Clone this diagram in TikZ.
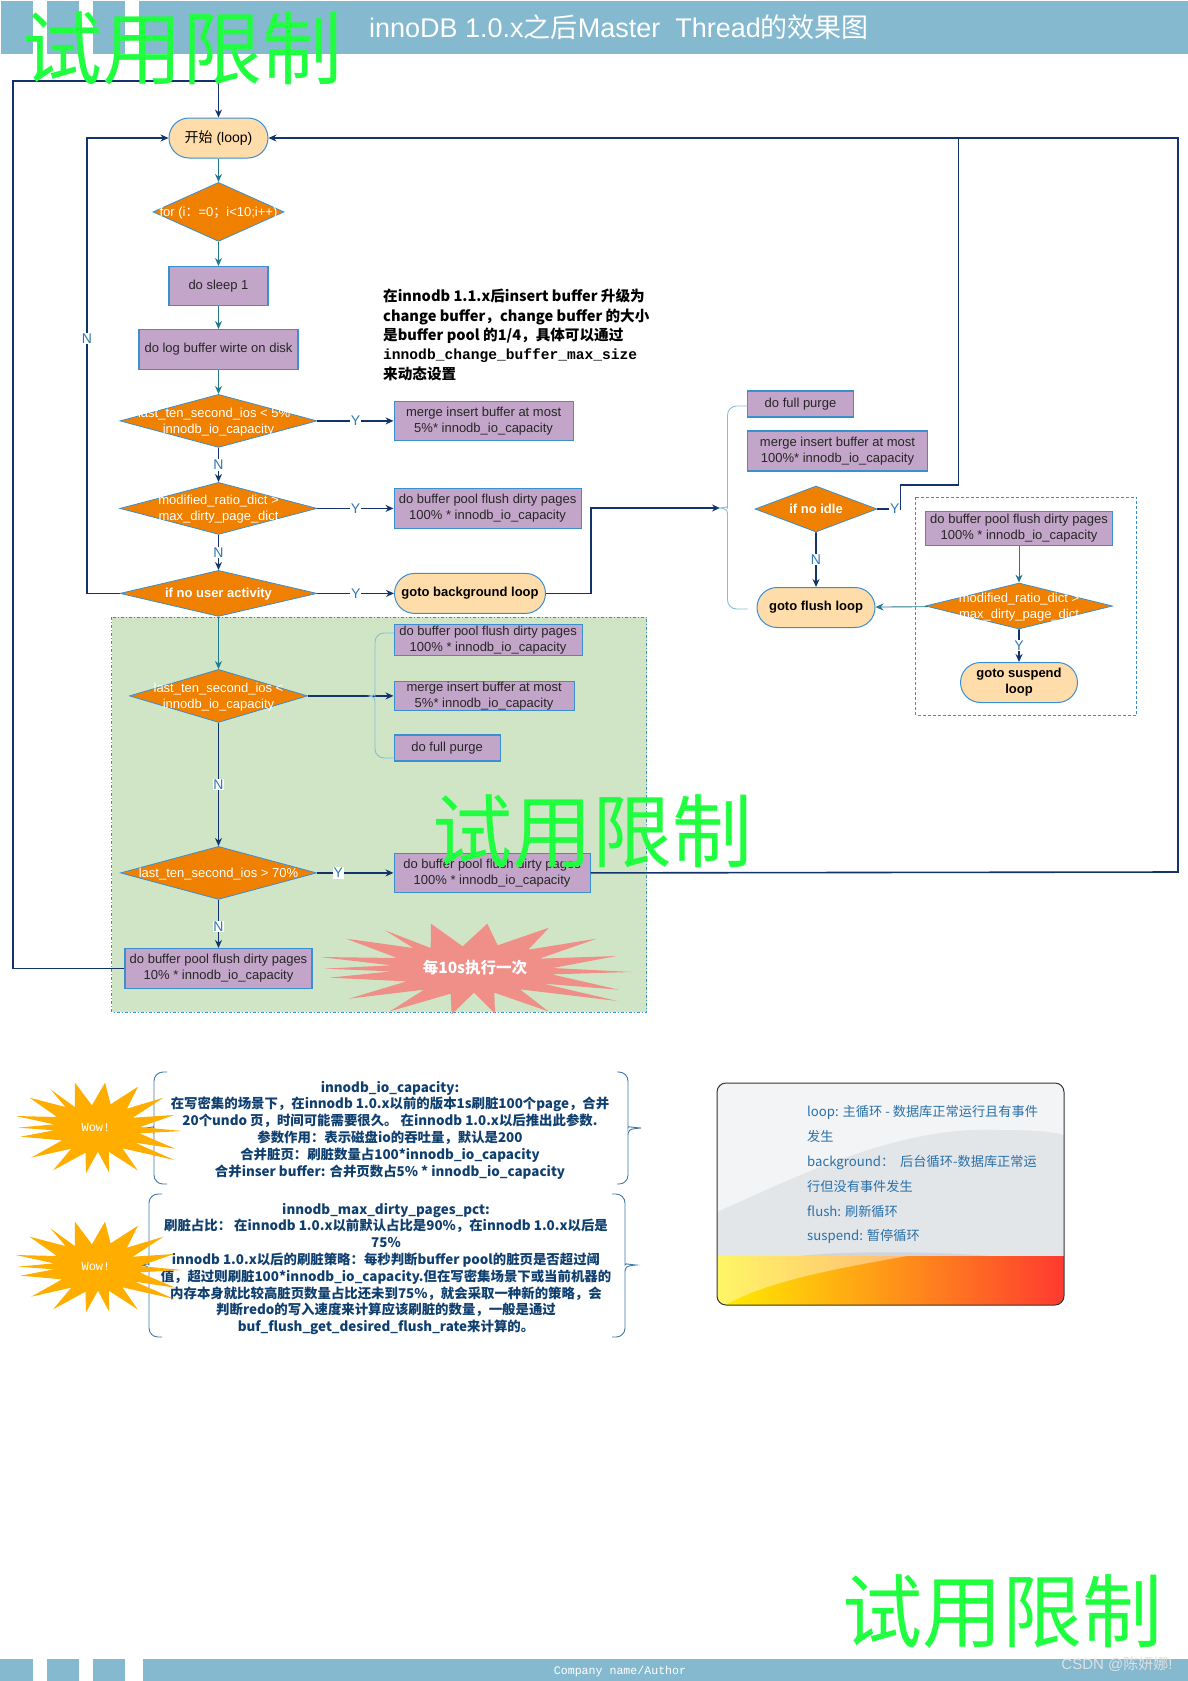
\documentclass[tikz,border=0pt]{standalone}
\usepackage{fontspec}
\usepackage{xcolor}
\setmainfont{Liberation Sans}
\setmonofont{Liberation Mono}
\newfontfamily\cjk{Noto Sans CJK SC}
\usepackage{tikz}
\usetikzlibrary{shapes.geometric,shapes.misc,arrows.meta}
\definecolor{barblue}{HTML}{84B9D0}
\definecolor{navyline}{HTML}{12336B}
\definecolor{tealline}{HTML}{1F7A8C}
\definecolor{edgeblue}{HTML}{3A8FD0}
\definecolor{boxfill}{HTML}{C3A5C9}
\definecolor{diafill}{HTML}{F08000}
\definecolor{pillfill}{HTML}{FFDDAA}
\definecolor{greenarea}{HTML}{CFE5C6}
\definecolor{markgreen}{HTML}{1FFF3F}
\definecolor{lblblue}{HTML}{2F78B0}
\definecolor{bracelight}{HTML}{86BFD6}
\definecolor{bracedark}{HTML}{3F78A8}
\definecolor{notedark}{HTML}{0F3F6F}
\definecolor{cardtext}{HTML}{2A70A8}
\definecolor{burstpink}{HTML}{EF8F88}
\definecolor{burstorange}{HTML}{FFAE00}
\definecolor{cardlight}{HTML}{F3F4F6}
\definecolor{cardmid}{HTML}{E3E6E9}
\definecolor{cardhump}{HTML}{CFD4DE}
\definecolor{bandyellow}{HTML}{FFF000}
\definecolor{bandorange}{HTML}{FF9F1C}
\definecolor{bandred}{HTML}{FF3A30}
\newcommand\zh[1]{{\cjk #1}}
\newcommand\dialbl[1]{\makebox[0pt]{\smash{\raisebox{-4pt}{\begin{tabular}{@{}c@{}}#1\end{tabular}}}}}
\newcommand\curly[7]{\draw[#1,rounded corners=9pt] (#2,#5) -- (#3,#5) -- (#3,#6-9) [sharp corners] .. controls (#3,#6-2) and (#3,#6-1) .. (#4,#6) .. controls (#3,#6+1) and (#3,#6+2) .. (#3,#6+9) [rounded corners=9pt] -- (#3,#7) -- (#2,#7);}
\begin{document}
\begin{tikzpicture}[x=1pt,y=-1pt,>={Stealth[length=8pt,width=7pt]},
  procbox/.style={draw=edgeblue,fill=boxfill,line width=1.2pt,inner sep=0pt,align=center,font=\fontsize{13}{16}\selectfont,text=black!85},
  diabox/.style={diamond,draw=edgeblue,fill=diafill,line width=.8pt,inner sep=0pt,text=white,font=\fontsize{13}{16}\selectfont},
  pillbox/.style={rounded rectangle,draw=edgeblue,fill=pillfill,line width=1pt,inner sep=0pt,align=center,font=\fontsize{13}{16}\bfseries\selectfont},
  navyarrow/.style={draw=navyline,line width=1.6pt},
  tealarrow/.style={draw=tealline,line width=.9pt},
  lbl/.style={fill=white,inner sep=.8pt,text=lblblue,font=\fontsize{14}{14}\selectfont},
  markword/.style={text=markgreen,font=\cjk\fontsize{80}{80}\selectfont},
  notetext/.style={align=center,text=notedark,font=\cjk\bfseries\fontsize{13.4}{16.8}\selectfont},
  burst/.pic={\fill[pic actions] (-135,-136) -- (-40,-68) -- (34,-136) -- (65,-71) -- (219,-124) -- (157,-58) -- (362,-91) -- (190,-31) -- (422,-39) -- (230,-3) -- (468,9) -- (227,16) -- (428,62) -- (202,44) -- (424,96) -- (132,61) -- (217,127) -- (55,71) -- (57,134) -- (-6,71) -- (-73,136) -- (-76,74) -- (-258,127) -- (-156,62) -- (-381,89) -- (-208,37) -- (-440,26) -- (-253,7) -- (-456,-1) -- (-253,-11) -- (-468,-36) -- (-236,-33) -- (-390,-91) -- (-188,-63) -- (-273,-116) -- (-136,-63) -- cycle;}]
\useasboundingbox (0,0) rectangle (1188,1681);

\fill[barblue] (1,1) rectangle (33,54);
\fill[barblue] (47,1) rectangle (79,54);
\fill[barblue] (93,1) rectangle (125,54);
\fill[barblue] (139,1) rectangle (1188,54);
\fill[barblue] (0,1659) rectangle (33,1681);
\fill[barblue] (47,1659) rectangle (79,1681);
\fill[barblue] (93,1659) rectangle (125,1681);
\fill[barblue] (143,1659) rectangle (1188,1681);
\node[text=white,font=\fontsize{27}{30}\selectfont] (title) at (619,27) {innoDB 1.0.x\zh{之后}Master\ \ Thread\zh{的效果图}};
\node[text=white,font=\ttfamily\fontsize{11.6}{12}\selectfont] (footer) at (620,1671) {Company name/Author};
\node[text=white!88!black,font=\fontsize{15}{15}\selectfont] (csdn) at (1117,1664) {CSDN @\zh{陈妍娜}!};

\draw[fill=greenarea,draw=edgeblue,line width=1pt,dash dot] (111.5,617) rectangle (646.5,1012);
\draw[draw=edgeblue,line width=.8pt,densely dashed] (915.5,497) rectangle (1136.5,715);

\node[pillbox,font=\fontsize{14}{16}\selectfont,minimum width=99pt,minimum height=40pt] (start) at (218.5,138) {\zh{开始} (loop)};
\node[diabox,below=44pt,minimum width=131pt,minimum height=59pt] (fordia) at (start) {\dialbl{for (i\zh{：}=0\zh{；}i<10;i++)}};
\node[procbox,below=128pt,minimum width=99pt,minimum height=39pt] (sleep) at (start) {do sleep 1};
\node[procbox,below=191pt,minimum width=159pt,minimum height=40pt] (logbuf) at (start) {do log buffer wirte on disk};
\node[diabox,below=256pt,minimum width=197pt,minimum height=53pt] (fivedia) at (start) {\dialbl{last\_ten\_second\_ios < 5\% *\\innodb\_io\_capacity}};
\node[diabox,below=344pt,minimum width=197pt,minimum height=52pt] (ratiodia) at (start) {\dialbl{modified\_ratio\_dict >\\max\_dirty\_page\_dict}};
\node[diabox,below=432pt,minimum width=197pt,minimum height=46pt] (userdia) at (start) {\dialbl{\bfseries if no user activity}};
\node[diabox,below=531pt,minimum width=178pt,minimum height=53pt] (lessdia) at (start) {\dialbl{last\_ten\_second\_ios <\\innodb\_io\_capacity}};
\node[diabox,below=708pt,minimum width=196pt,minimum height=53pt] (moredia) at (start) {\dialbl{last\_ten\_second\_ios > 70\%}};
\node[procbox,below=810pt,minimum width=187pt,minimum height=40pt] (flushten) at (start) {do buffer pool flush dirty pages\\10\% * innodb\_io\_capacity};

\node[procbox,right=175pt,minimum width=179pt,minimum height=39pt] (mergefive) at (fivedia) {merge insert buffer at most\\5\%* innodb\_io\_capacity};
\node[procbox,right=175pt,minimum width=187pt,minimum height=40pt] (flushall) at (ratiodia) {do buffer pool flush dirty pages\\100\% * innodb\_io\_capacity};
\node[pillbox,right=175.5pt,minimum width=151pt,minimum height=40pt] (bgloop) at (userdia) {goto background loop};
\node[procbox,right=175pt,minimum width=188pt,minimum height=31pt] (flushless) at (218.5,640) {do buffer pool flush dirty pages\\100\% * innodb\_io\_capacity};
\node[procbox,right=175pt,minimum width=180pt,minimum height=29pt] (mergeless) at (lessdia) {merge insert buffer at most\\5\%* innodb\_io\_capacity};
\node[procbox,right=175pt,minimum width=106pt,minimum height=26pt] (purgeless) at (218.5,748) {do full purge};
\node[procbox,right=175pt,minimum width=196pt,minimum height=39pt] (flushmore) at (moredia) {do buffer pool flush dirty pages\\100\% * innodb\_io\_capacity};

\node[procbox,minimum width=106pt,minimum height=26pt] (purgeidle) at (800.5,404) {do full purge};
\node[procbox,minimum width=180pt,minimum height=40pt] (mergeidle) at (837.5,451) {merge insert buffer at most\\100\%* innodb\_io\_capacity};
\node[diabox,minimum width=122pt,minimum height=46pt] (idledia) at (816,509) {\dialbl{\bfseries if no idle}};
\node[pillbox,below=78pt,minimum width=118pt,minimum height=40pt] (flushloop) at (idledia) {goto flush loop};
\node[diabox,minimum width=187pt,minimum height=46pt] (suspdia) at (1019,606) {\dialbl{modified\_ratio\_dict >\\max\_dirty\_page\_dict}};
\node[procbox,above=60pt,minimum width=187pt,minimum height=34pt] (flushsusp) at (suspdia) {do buffer pool flush dirty pages\\100\% * innodb\_io\_capacity};
\node[pillbox,below=56pt,minimum width=117pt,minimum height=40pt] (suspend) at (suspdia) {goto suspend\\loop};

\coordinate (topleft) at (13,81);
\coordinate (nleft) at (87,138);
\coordinate (farright) at (1178,872);
\coordinate (bgturn) at (591,508);
\coordinate (flushtip) at (720,508);
\coordinate (idleturn) at (900.5,485);
\coordinate (idleup) at (958.5,138);

\draw[tealarrow,->] (start) -- (fordia);
\draw[tealarrow,->] (fordia) -- (sleep);
\draw[tealarrow,->] (sleep) -- (logbuf);
\draw[tealarrow,->] (logbuf) -- (fivedia);
\draw[navyarrow,->] (fivedia) -- node[lbl]{N} (ratiodia);
\draw[navyarrow,->] (ratiodia) -- node[lbl]{N} (userdia);
\draw[tealarrow,->] (userdia) -- (lessdia);
\draw[navyarrow,->] (lessdia) -- node[lbl]{N} (moredia);
\draw[navyarrow,->] (moredia) -- node[lbl,pos=.55]{N} (flushten);
\draw[navyarrow,->] (fivedia) -- node[lbl]{Y} (mergefive);
\draw[navyarrow,->] (ratiodia) -- node[lbl]{Y} (flushall);
\draw[navyarrow,->] (userdia) -- node[lbl]{Y} (bgloop);
\draw[navyarrow,->] (lessdia) -- (mergeless);
\draw[navyarrow,->] (moredia) -- node[lbl,pos=.28]{Y} (flushmore);
\draw[navyarrow,->] (flushten.west) -| (topleft) -| (start.north);
\draw[navyarrow,->] (userdia.west) -| node[lbl,pos=.78]{N} (nleft) -- (start.west);
\draw[navyarrow,->] (flushmore.east) -- (farright) |- (start.east);
\draw[navyarrow,->] (bgloop.east) -| (bgturn) -- (flushtip);
\draw[navyarrow] (idledia.east) -- node[lbl,pos=.75]{Y} (idleturn |- idledia.east) -- (idleturn) -| (idleup);
\draw[navyarrow,->] (idledia) -- node[lbl]{N} (flushloop);
\draw[tealarrow,->] (flushsusp) -- (suspdia);
\draw[tealarrow,->] (suspdia) -- (flushloop);
\draw[navyarrow,->] (suspdia) -- node[lbl]{Y} (suspend);

\curly{bracelight,line width=.9pt}{747.5}{727.5}{720}{406}{508}{609}
\curly{bracelight,line width=.9pt}{394}{375}{369}{633}{696}{758}
\curly{bracedark,line width=.9pt}{167}{154}{146}{1072}{1128}{1184}
\curly{bracedark,line width=.9pt}{617}{628}{641}{1072}{1128}{1184}
\curly{bracedark,line width=.9pt}{162}{149}{141}{1194}{1265}{1337}
\curly{bracedark,line width=.9pt}{612}{625}{636}{1194}{1265}{1337}

\pic[fill=burstpink,xscale=1/3,yscale=1/3] at (476,969) {burst};
\node[text=white,font=\cjk\bfseries\fontsize{15.5}{15.5}\selectfont] (tenlbl) at (475,968) {每10s执行一次};

\node[align=left,text=black,font=\cjk\bfseries\fontsize{14.6}{19.3}\selectfont,anchor=north west,inner sep=0pt] (upgrade) at (383,289) {在innodb 1.1.x后insert buffer 升级为\\change buffer，change buffer 的大小\\是buffer pool 的1/4，具体可以通过\\{\ttfamily innodb\_change\_buffer\_max\_size}\\来动态设置};

\node[notetext] (capnote) at (390,1130) {innodb\_io\_capacity:\\在写密集的场景下，在innodb 1.0.x以前的版本1s刷脏100个page，合并\\20个undo 页，时间可能需要很久。 在innodb 1.0.x以后推出此参数.\\参数作用：表示磁盘io的吞吐量，默认是200\\合并脏页：刷脏数量占100*innodb\_io\_capacity\\合并inser buffer: 合并页数占5\% * innodb\_io\_capacity};
\node[notetext] (pctnote) at (386,1269) {innodb\_max\_dirty\_pages\_pct:\\刷脏占比： 在innodb 1.0.x以前默认占比是90\%，在innodb 1.0.x以后是\\75\%\\innodb 1.0.x以后的刷脏策略：每秒判断buffer pool的脏页是否超过阈\\值，超过则刷脏100*innodb\_io\_capacity.但在写密集场景下或当前机器的\\内存本身就比较高脏页数量占比还未到75\%，就会采取一种新的策略，会\\判断redo的写入速度来计算应该刷脏的数量，一般是通过\\buf\_flush\_get\_desired\_flush\_rate来计算的。};

\pic[fill=burstorange,xscale=.178,yscale=1/3] at (99,1128) {burst};
\pic[fill=burstorange,xscale=.178,yscale=1/3] at (99,1267) {burst};
\node[text=white,font=\ttfamily\fontsize{12}{12}\selectfont] (wowa) at (96,1128) {Wow!};
\node[text=white,font=\ttfamily\fontsize{12}{12}\selectfont] (wowb) at (96,1267) {Wow!};

\begin{scope}
\clip[rounded corners=9pt] (717,1083) rectangle (1064,1305);
\fill[cardlight] (717,1083) rectangle (1064,1256);
\fill[cardmid] (717,1212) .. controls (800,1175) and (900,1125) .. (1000,1130) .. controls (1030,1130) and (1050,1131) .. (1064,1135) -- (1064,1256) -- (717,1256) -- cycle;
\fill[cardhump] (800,1256) .. controls (840,1251) and (930,1251) .. (990,1256) -- cycle;
\shade[left color=bandyellow,middle color=bandorange,right color=bandred] (717,1256) rectangle (1064,1305);
\fill[white,opacity=.4] (717,1256) -- (907,1256) .. controls (840,1268) and (770,1280) .. (725,1305) -- (717,1305) -- cycle;
\end{scope}
\draw[black!80,line width=1pt,rounded corners=9pt] (717,1083) rectangle (1064,1305);
\node[align=left,text=cardtext,anchor=north west,inner sep=0pt,font=\cjk\fontsize{13.2}{24.8}\selectfont] (legend) at (807,1105.5) {loop: 主循环 - 数据库正常运行且有事件\\发生\\background：\ \ 后台循环-数据库正常运\\行但没有事件发生\\flush: 刷新循环\\suspend: 暂停循环};

\node[markword] (marka) at (183,48) {试用限制};
\node[markword] (markb) at (592,831) {试用限制};
\node[markword] (markc) at (1002,1611) {试用限制};
\end{tikzpicture}
\end{document}
